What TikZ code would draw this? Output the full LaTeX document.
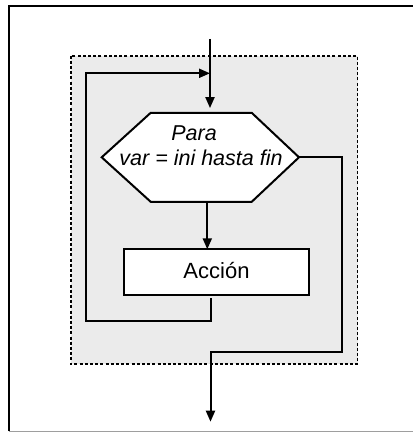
\documentclass[tikz,border=0pt]{standalone}
\usepackage{fontspec}
\setmainfont{Liberation Sans}
\usetikzlibrary{arrows.meta}
\begin{document}
\begin{tikzpicture}[x=1pt,y=-1pt,
  line/.style={line width=2pt,line join=miter},
  arr/.style={line,-{Triangle[length=11pt,width=9pt]}},
  hexbox/.style={line width=2pt,fill=white},
  zone/.style={line width=1.8pt,dash pattern=on 3pt off 2.2pt,fill=black!8},
  lbl/.style={font=\fontsize{21.5}{25}\selectfont\itshape,align=center,inner sep=0pt},
  actlbl/.style={font=\fontsize{22}{25}\selectfont,inner sep=0pt}]
\useasboundingbox (0,0) rectangle (413,433);
% frame
\draw[line width=2pt] (9,431) -- (9,5.8) -- (413,5.8);
\draw[line width=1.4pt,black!38] (9,431.5) -- (413,431.5);
% loop zone
\draw[zone] (70.7,55.7) rectangle (357.5,364);
% hexagon
\draw[hexbox] (101.7,157.3) -- (150.7,112.8) -- (251.7,112.8) -- (299,157.3) -- (251.7,201.8) -- (150.7,201.8) -- cycle;
\node[minimum width=197.3pt,minimum height=89pt,inner sep=0pt] (hex) at (200.35,157.3) {};
\node[lbl] (hextxt) at (201,146) {\hspace*{-14pt}Para\\var = ini hasta fin};
% action
\node[draw,line width=2pt,fill=white,minimum width=184.4pt,minimum height=45.4pt,inner sep=0pt] (act) at (216.5,272) {};
\node[actlbl] (acttxt) at (216.5,271) {Acción};
% coordinates
\coordinate (in) at (210,39);
\coordinate (j) at (210,73.3);
\coordinate (loopstart) at (210.7,298);
\coordinate (lb) at (210.7,321);
\coordinate (ll) at (86,321);
\coordinate (lt) at (86,73.3);
\coordinate (e1) at (341.7,157.3);
\coordinate (e2) at (341.7,351.7);
\coordinate (e3) at (210.5,351.7);
\coordinate (out) at (210.5,421.7);
\coordinate (hb) at (207.3,201.8);
\coordinate (at) at (207.3,249.3);
% connectors
\draw[arr,shorten >=4.5pt] (in) -- (j) -- (hex.north -| in);
\draw[arr] (loopstart) -- (lb) -- (ll) -- (lt) -- (j);
\draw[arr] (hb) -- (at);
\draw[arr] (hex.east) -- (e1) -- (e2) -- (e3) -- (out);
\end{tikzpicture}
\end{document}
